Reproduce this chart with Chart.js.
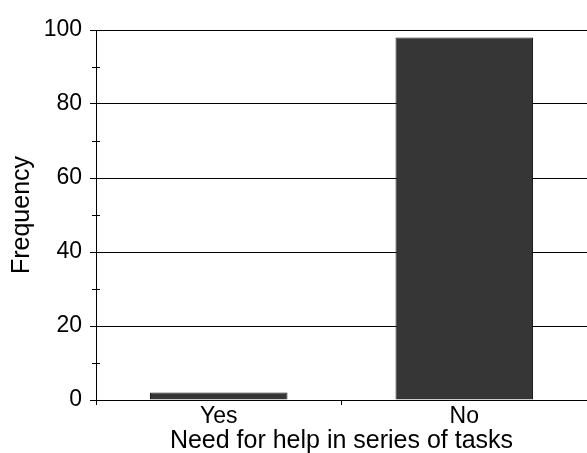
<!DOCTYPE html>
<html>
<head>
<meta charset="utf-8">
<script src="https://cdn.jsdelivr.net/npm/chart.js@4/dist/chart.umd.min.js"></script>
<style>
    html, body { margin: 0; padding: 0; background: #fff; }
</style>
</head>
<body>
<canvas id="helpChart" width="587" height="453"></canvas>
<script>
// data
var categories = ['Yes', 'No'];
var frequency = [2, 98];
var yTicks = [0, 20, 40, 60, 80, 100];

// minor ticks crossing the y axis at odd tens
var minorTicks = {
    id: 'minorTicks',
    afterDraw: function (chart) {
        var ctx = chart.ctx;
        var y = chart.scales.y;
        ctx.save();
        ctx.strokeStyle = '#000';
        ctx.lineWidth = 1;
        for (var v = 10; v < 100; v += 20) {
            var py = Math.round(y.getPixelForValue(v)) + 0.5;
            ctx.beginPath();
            ctx.moveTo(y.right - 4, py);
            ctx.lineTo(y.right + 4, py);
            ctx.stroke();
        }
        ctx.restore();
    }
};

function helpCanvas() {
    var ctx = document.getElementById('helpChart').getContext('2d');
    var chart = new Chart(ctx, {
        type: 'bar',
        data: {
            labels: categories,
            datasets: [{
                data: frequency,
                backgroundColor: '#363636',
                borderColor: '#1a1a1a',
                borderWidth: 1,
                categoryPercentage: 0.56,
                barPercentage: 1
            }]
        },
        options: {
            responsive: false,
            animation: false,
            layout: { padding: { top: 30, right: 0, left: 0, bottom: 0 } },
            plugins: { legend: { display: false }, tooltip: { enabled: false } },
            scales: {
                x: {
                    afterFit: function (s) { s.height = 53; },
                    grid: { drawOnChartArea: false, color: '#000', tickLength: 5, offset: true },
                    border: { display: true, color: '#000' },
                    ticks: { color: '#000', padding: -2, font: { family: 'Liberation Sans', size: 23 } },
                    title: {
                        display: true,
                        text: 'Need for help in series of tasks',
                        color: '#000',
                        padding: { top: 0, bottom: -2 },
                        font: { family: 'Liberation Sans', size: 25, lineHeight: 1.1 }
                    }
                },
                y: {
                    min: 0,
                    max: 100,
                    afterFit: function (s) { s.width = 96; },
                    afterBuildTicks: function (s) {
                        s.ticks = yTicks.map(function (v) { return { value: v }; });
                    },
                    grid: { color: '#000', tickLength: 6, lineWidth: 1 },
                    border: { display: true, color: '#000' },
                    ticks: { color: '#000', padding: 8, font: { family: 'Liberation Sans', size: 23 } },
                    title: {
                        display: true,
                        text: 'Frequency',
                        color: '#000',
                        padding: { top: 7, bottom: 0 },
                        font: { family: 'Liberation Sans', size: 25 }
                    }
                }
            }
        },
        plugins: [minorTicks]
    });
}

helpCanvas();
</script>
</body>
</html>
